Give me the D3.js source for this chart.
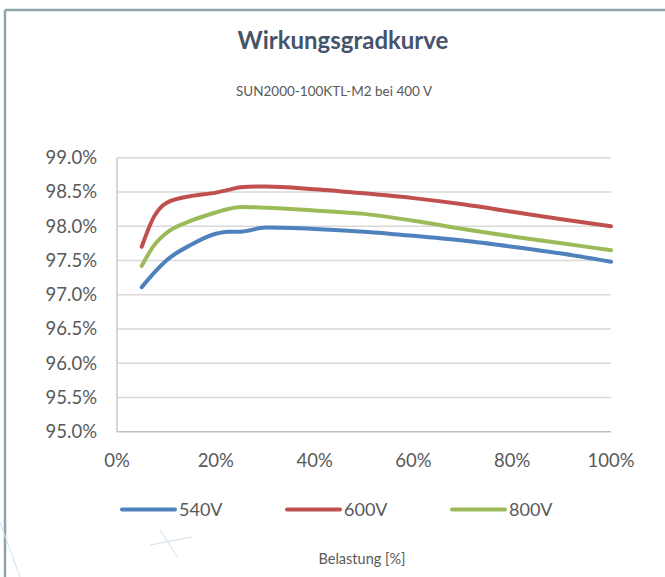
<!DOCTYPE html>
<html><head><meta charset="utf-8">
<script src="https://cdn.jsdelivr.net/npm/d3@7"></script>
<style>body{margin:0;background:#fff}svg{display:block}</style>
</head><body>
<svg id="c" width="665" height="577"></svg>
<script>
const loads = [5, 7.5, 10, 15, 20, 22.5, 25, 30, 40, 50, 60, 70, 80, 90, 100];
const eff540 = [97.11, 97.32, 97.50, 97.73, 97.89, 97.92, 97.92, 97.98, 97.96, 97.92, 97.86, 97.79, 97.70, 97.60, 97.48];
const eff600 = [97.70, 98.14, 98.34, 98.44, 98.49, 98.53, 98.57, 98.58, 98.54, 98.48, 98.41, 98.32, 98.21, 98.10, 98.00];
const eff800 = [97.42, 97.72, 97.90, 98.08, 98.20, 98.25, 98.28, 98.27, 98.23, 98.18, 98.08, 97.96, 97.85, 97.75, 97.65];
const seriesNames = ["540V", "600V", "800V"];
const seriesColors = ["#4F81BD", "#C0504D", "#9BBB59"];
const yTicks = [95.0, 95.5, 96.0, 96.5, 97.0, 97.5, 98.0, 98.5, 99.0];
const xTicks = [0, 20, 40, 60, 80, 100];
const title = "Wirkungsgradkurve";
const subtitle = "SUN2000-100KTL-M2 bei 400 V";
const xTitle = "Belastung [%]";

const series = [eff540, eff600, eff800];
const svg = d3.select("#c");
const font = "Lato, 'Open Sans', sans-serif";

// frame
svg.append("line").attr("x1",5).attr("x2",665).attr("y1",10).attr("y2",10).attr("stroke","#8ea3ad").attr("stroke-width",2.5);
svg.append("line").attr("x1",5).attr("x2",5).attr("y1",10).attr("y2",577).attr("stroke","#8ea3ad").attr("stroke-width",2.5);
// faint artifacts
const art = svg.append("g").attr("stroke","#d3dfea").attr("stroke-width",1).attr("fill","none");
art.append("line").attr("x1",0).attr("y1",522).attr("x2",20).attr("y2",577);
art.append("line").attr("x1",160).attr("y1",530).attr("x2",178).attr("y2",558);
art.append("line").attr("x1",150).attr("y1",545).attr("x2",192).attr("y2",537);

const x = d3.scaleLinear().domain([0,100]).range([117,611]);
const y = d3.scaleLinear().domain([95,99]).range([431.7,157.7]);

// grid
svg.append("g").selectAll("line").data(yTicks.slice(1)).join("line")
  .attr("x1",x(0)).attr("x2",x(100)).attr("y1",d=>y(d)).attr("y2",d=>y(d))
  .attr("stroke","#d9d9d9").attr("stroke-width",1.5);

// axes lines
svg.append("line").attr("x1",x(0)).attr("x2",x(0)).attr("y1",y(99)).attr("y2",y(95)).attr("stroke","#c8c8c8").attr("stroke-width",1.5);
svg.append("line").attr("x1",x(0)).attr("x2",x(100)).attr("y1",y(95)).attr("y2",y(95)).attr("stroke","#bfbfbf").attr("stroke-width",1.5);

// y labels
svg.append("g").selectAll("text").data(yTicks).join("text")
  .attr("x",97).attr("y",d=>y(d)).attr("dy","0.35em").attr("text-anchor","end")
  .attr("font-family",font).attr("font-size",18.5).attr("fill","#595959")
  .text(d=>d.toFixed(1)+"%");

// x labels
svg.append("g").selectAll("text").data(xTicks).join("text")
  .attr("x",d=>x(d)).attr("y",467).attr("text-anchor","middle")
  .attr("font-family",font).attr("font-size",18.5).attr("fill","#595959")
  .text(d=>d+"%");

// lines
const line = d3.line().x((d,i)=>x(loads[i])).y(d=>y(d)).curve(d3.curveMonotoneX);
svg.append("g").selectAll("path").data(series).join("path")
  .attr("d",line).attr("fill","none").attr("stroke",(d,i)=>seriesColors[i])
  .attr("stroke-width",4).attr("stroke-linecap","round").attr("stroke-linejoin","round");

// title
svg.append("text").attr("x",343).attr("y",49).attr("text-anchor","middle")
  .attr("font-family",font).attr("font-weight","bold").attr("font-size",24).attr("fill","#44546a").text(title);
svg.append("text").attr("x",334).attr("y",96).attr("text-anchor","middle")
  .attr("font-family",font).attr("font-size",13.5).attr("fill","#595959").text(subtitle);

// legend
const legX = [122, 287, 452];
const lg = svg.append("g").selectAll("g").data(seriesNames).join("g");
lg.append("line").attr("x1",(d,i)=>legX[i]).attr("x2",(d,i)=>legX[i]+53).attr("y1",509.5).attr("y2",509.5)
  .attr("stroke",(d,i)=>seriesColors[i]).attr("stroke-width",4).attr("stroke-linecap","round");
lg.append("text").attr("x",(d,i)=>legX[i]+57).attr("y",509.5).attr("dy","0.35em")
  .attr("font-family",font).attr("font-size",18).attr("fill","#595959").text(d=>d);

// x title
svg.append("text").attr("x",362).attr("y",564).attr("text-anchor","middle")
  .attr("font-family",font).attr("font-size",14.5).attr("fill","#595959").text(xTitle);
</script>
</body></html>
